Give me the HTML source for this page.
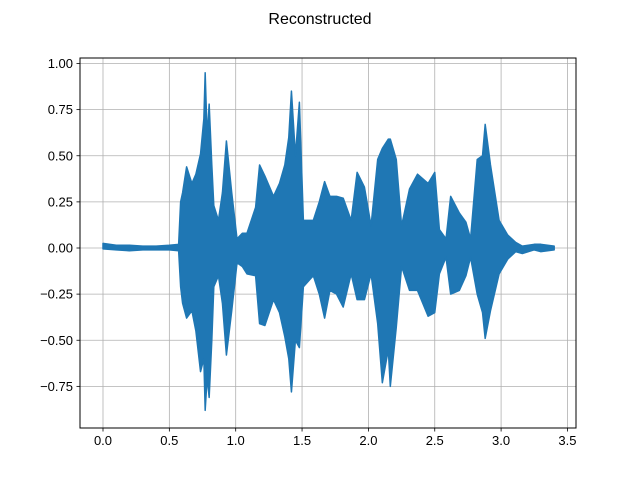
<!DOCTYPE html>
<html><head><meta charset="utf-8"><style>
body{margin:0;background:#fff;}
svg text{font-family:"Liberation Sans","DejaVu Sans",sans-serif;}
</style></head><body>
<svg id="chart" width="640" height="480">
<rect width="640" height="480" fill="#fff"/>
<text x="320" y="24" text-anchor="middle" font-size="16">Reconstructed</text>
<g id="grid"></g>
<g id="marks"></g>
<rect x="80" y="58" width="496" height="370" fill="none" stroke="#000" stroke-width="1"/>
<g id="axes"></g>
</svg>
<script>
const times = [0,0.1,0.2,0.3,0.4,0.5,0.57,0.585,0.6,0.63,0.67,0.7,0.735,0.76,0.77,0.785,0.8,0.82,0.835,0.87,0.9,0.93,0.97,1.01,1.05,1.085,1.15,1.18,1.22,1.285,1.33,1.37,1.4,1.42,1.45,1.48,1.51,1.585,1.63,1.67,1.71,1.76,1.81,1.87,1.915,1.97,2.02,2.07,2.105,2.15,2.165,2.21,2.25,2.31,2.37,2.45,2.5,2.535,2.585,2.62,2.685,2.735,2.77,2.82,2.86,2.88,2.92,2.985,3.05,3.11,3.16,3.25,3.3,3.4];
const upper = [0.025,0.015,0.015,0.01,0.01,0.015,0.02,0.25,0.3,0.44,0.35,0.4,0.51,0.7,0.95,0.6,0.78,0.45,0.23,0.15,0.3,0.58,0.3,0.05,0.08,0.08,0.22,0.45,0.39,0.28,0.35,0.45,0.6,0.85,0.5,0.79,0.15,0.15,0.25,0.36,0.28,0.28,0.27,0.15,0.41,0.33,0.12,0.48,0.54,0.59,0.59,0.48,0.12,0.32,0.4,0.35,0.41,0.1,0.05,0.28,0.19,0.14,0.05,0.48,0.5,0.67,0.45,0.15,0.07,0.03,0.01,0.02,0.02,0.01];
const lower = [-0.005,-0.01,-0.015,-0.01,-0.01,-0.01,-0.015,-0.21,-0.3,-0.38,-0.34,-0.45,-0.67,-0.6,-0.88,-0.7,-0.81,-0.5,-0.21,-0.15,-0.3,-0.58,-0.34,-0.08,-0.1,-0.14,-0.15,-0.41,-0.42,-0.28,-0.35,-0.48,-0.6,-0.78,-0.5,-0.54,-0.21,-0.15,-0.25,-0.38,-0.23,-0.25,-0.32,-0.14,-0.28,-0.28,-0.14,-0.41,-0.73,-0.55,-0.75,-0.43,-0.1,-0.23,-0.23,-0.37,-0.35,-0.14,-0.05,-0.25,-0.23,-0.15,-0.05,-0.25,-0.35,-0.49,-0.34,-0.14,-0.06,-0.02,-0.03,-0.01,-0.02,-0.01];
const xTicks = [0,0.5,1,1.5,2,2.5,3,3.5];
const xTickLabels = ["0.0","0.5","1.0","1.5","2.0","2.5","3.0","3.5"];
const yTicks = [1,0.75,0.5,0.25,0,-0.25,-0.5,-0.75];
const yTickLabels = ["1.00","0.75","0.50","0.25","0.00","\u22120.25","\u22120.50","\u22120.75"];

const X = t => 103 + t*132.7;
const Y = v => 248 - v*184.5;
const NS="http://www.w3.org/2000/svg";
const grid=document.getElementById('grid'), marks=document.getElementById('marks'), axes=document.getElementById('axes');
function mk(tag, attrs, parent){const e=document.createElementNS(NS,tag);for(const k in attrs)e.setAttribute(k,attrs[k]);parent.appendChild(e);return e;}

xTicks.forEach((t,i)=>{
  const g=mk('line',{x1:X(t),x2:X(t),y1:58,y2:428,stroke:'#b0b0b0','stroke-width':0.8},grid);
  
  
  const tk=mk('line',{x1:X(t),x2:X(t),y1:428,y2:431.5,stroke:'#000','stroke-width':0.8},axes);
  
  
  const tx=mk('text',{x:X(t),y:445,'text-anchor':'middle','font-size':13},axes);
  tx.textContent=xTickLabels[i];
  
  
});
yTicks.forEach((v,i)=>{
  const g=mk('line',{x1:80,x2:576,y1:Y(v),y2:Y(v),stroke:'#b0b0b0','stroke-width':0.8},grid);
  
  
  const tk=mk('line',{x1:76.5,x2:80,y1:Y(v),y2:Y(v),stroke:'#000','stroke-width':0.8},axes);
  
  
  const tx=mk('text',{x:73,y:Y(v)+4.5,'text-anchor':'end','font-size':13},axes);
  tx.textContent=yTickLabels[i];
  
  
});

let d='M'+X(times[0])+','+Y(upper[0]);
for(let i=1;i<times.length;i++) d+=' L'+X(times[i])+','+Y(upper[i]);
for(let i=times.length-1;i>=0;i--) d+=' L'+X(times[i])+','+Y(lower[i]);
d+=' Z';
const p=mk('path',{d:d,fill:'#1f77b4',stroke:'#1f77b4','stroke-width':1.5,'stroke-linejoin':'round'},marks);


</script>
</body></html>
